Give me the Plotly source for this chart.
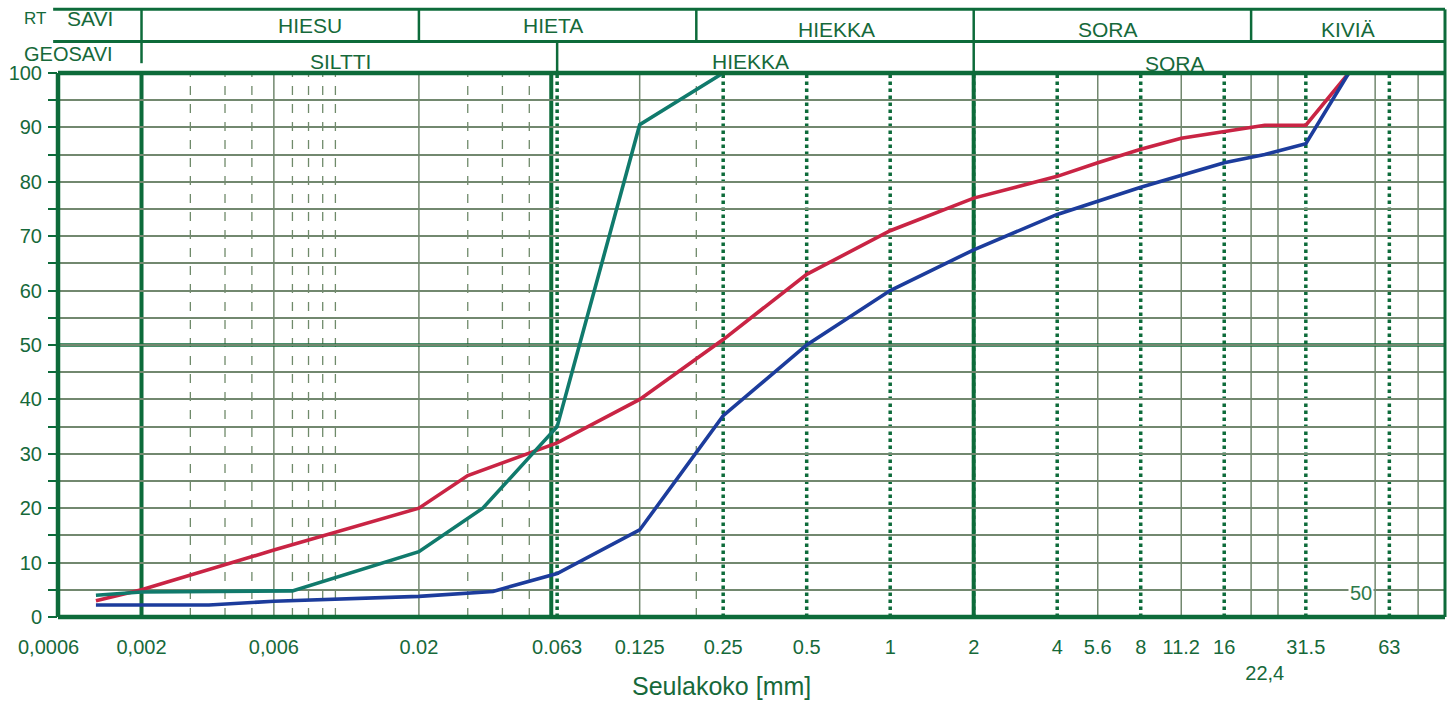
import math
import plotly.graph_objects as go

# Sieve sizes (mm) and cumulative passing (%) for the three samples
red_size = [0.00137, 0.002, 0.006, 0.01, 0.02, 0.03, 0.063, 0.125, 0.25, 0.5, 1, 2, 4, 5.6, 8, 11.2, 16, 22.4, 31.5, 45]
red_pass = [3, 5, 12.3, 15.5, 20, 26, 32, 40, 51, 63, 71, 77, 81, 83.5, 86, 88, 89.3, 90.4, 90.4, 100]

blue_size = [0.00137, 0.0035, 0.006, 0.02, 0.037, 0.063, 0.125, 0.25, 0.5, 1, 2, 4, 8, 16, 22.4, 31.5, 45]
blue_pass = [2.2, 2.2, 2.9, 3.8, 4.7, 8, 16, 37, 50, 60, 67.5, 74, 79, 83.5, 85, 87, 100]

teal_size = [0.00137, 0.002, 0.007, 0.02, 0.034, 0.063, 0.125, 0.25]
teal_pass = [4, 4.6, 4.8, 12, 20, 35, 90.5, 100]

tick_vals = [0.002, 0.006, 0.02, 0.063, 0.125, 0.25, 0.5, 1, 2, 4, 5.6, 8, 11.2, 16, 22.4, 31.5, 63]
tick_text = ["0,002", "0,006", "0.02", "0.063", "0.125", "0.25", "0.5", "1", "2", "4",
             "5.6", "8", "11.2", "16", "<br>22,4", "31.5", "63"]

# Grid line families
thick_lines = [0.002, 0.06, 2]
dotted_lines = [0.063, 0.25, 0.5, 1, 2, 4, 8, 16, 31.5, 63]
thin_lines = [0.006, 0.02, 0.125, 5.6, 11.2, 20, 25, 56, 80]
dashed_lines = [0.003, 0.004, 0.005, 0.007, 0.008, 0.009, 0.01, 0.03, 0.04, 0.05, 0.2]

# Classification header bands
rt_bounds = [0.002, 0.02, 0.2, 2, 20]
geo_bounds = [0.002, 0.063, 2]

GREEN = "#0d6b3a"
TEXT = "#16693a"
GRID = "#72886f"
FONT = "Liberation Sans, Arial, sans-serif"

fig = go.Figure()
for xs, ys, col in [(red_size, red_pass, "#c92444"),
                    (teal_size, teal_pass, "#107a6c"),
                    (blue_size, blue_pass, "#1c3c9c")]:
    fig.add_trace(go.Scatter(x=xs, y=ys, mode="lines",
                             line=dict(color=col, width=3.6),
                             hoverinfo="skip"))

shapes = []
for v in dashed_lines:
    shapes.append(dict(type="line", xref="x", yref="paper", x0=v, x1=v, y0=0, y1=1,
                       line=dict(color="#6f8a6a", width=1.3, dash="dash"), layer="below"))
for v in thin_lines:
    shapes.append(dict(type="line", xref="x", yref="paper", x0=v, x1=v, y0=0, y1=1,
                       line=dict(color=GRID, width=1.5), layer="below"))
for v in dotted_lines:
    shapes.append(dict(type="line", xref="x", yref="paper", x0=v, x1=v, y0=0, y1=1,
                       line=dict(color=GREEN, width=3.5, dash="dot"), layer="below"))
for v in thick_lines:
    shapes.append(dict(type="line", xref="x", yref="paper", x0=v, x1=v, y0=0, y1=1,
                       line=dict(color=GREEN, width=4), layer="below"))

# 50 % line
shapes.append(dict(type="line", xref="paper", yref="y", x0=0, x1=1, y0=50, y1=50,
                   line=dict(color=GREEN, width=3.5), layer="below"))

# Plot frame
shapes += [
    dict(type="line", xref="paper", yref="paper", x0=0, x1=0, y0=0, y1=1, line=dict(color=GREEN, width=4.5)),
    dict(type="line", xref="paper", yref="paper", x0=0, x1=1, y0=0, y1=0, line=dict(color=GREEN, width=4.5)),
    dict(type="line", xref="paper", yref="paper", x0=0, x1=1, y0=1, y1=1, line=dict(color=GREEN, width=4.5)),
    dict(type="line", xref="paper", yref="paper", x0=1, x1=1, y0=0, y1=1, line=dict(color=GREEN, width=3)),
]

# Header table above the plot
Y_TOP = 1.117
Y_MID = 1.058
x_left = -0.0035
shapes += [
    dict(type="line", xref="paper", yref="paper", x0=x_left, x1=1, y0=Y_TOP, y1=Y_TOP, line=dict(color=GREEN, width=3)),
    dict(type="line", xref="paper", yref="paper", x0=x_left, x1=1, y0=Y_MID, y1=Y_MID, line=dict(color=GREEN, width=3)),
    dict(type="line", xref="paper", yref="paper", x0=1, x1=1, y0=1, y1=Y_TOP, line=dict(color=GREEN, width=3)),
]
for v in rt_bounds:
    shapes.append(dict(type="line", xref="x", yref="paper", x0=v, x1=v, y0=Y_MID, y1=Y_TOP,
                       line=dict(color=GREEN, width=2.5)))
for v in geo_bounds:
    shapes.append(dict(type="line", xref="x", yref="paper", x0=v, x1=v, y0=1.0 if v != 0.002 else 1.018, y1=Y_MID,
                       line=dict(color=GREEN, width=2.5)))

PX0, PXW = 58, 1387
PY0, PYH = 617, 544


def px(x):
    return (x - PX0) / PXW


def py(y):
    return (PY0 - y) / PYH


annotations = []
header = [("RT", 35, 19, 17), ("SAVI", 90, 19, 21), ("HIESU", 310, 25, 21), ("HIETA", 553, 26, 21),
          ("HIEKKA", 836, 30, 21), ("SORA", 1108, 30, 21), ("KIVIÄ", 1348, 30, 21),
          ("GEOSAVI", 68, 54, 20), ("SILTTI", 340, 62, 21), ("HIEKKA", 750, 62, 21), ("SORA", 1175, 64, 21)]
for txt, x, y, size in header:
    annotations.append(dict(text=txt, xref="paper", yref="paper", x=px(x), y=py(y),
                            showarrow=False, xanchor="center", yanchor="middle",
                            font=dict(family=FONT, size=size, color=TEXT)))

annotations.append(dict(text="0,0006", xref="paper", yref="paper", x=px(48), y=py(647),
                        showarrow=False, xanchor="center", yanchor="middle",
                        font=dict(family=FONT, size=20, color=TEXT)))
annotations.append(dict(text="Seulakoko [mm]", xref="paper", yref="paper", x=px(721), y=py(686),
                        showarrow=False, xanchor="center", yanchor="middle",
                        font=dict(family=FONT, size=25, color=TEXT)))
annotations.append(dict(text="50", xref="x", yref="y", x=math.log10(50), y=4.4,
                        showarrow=False, xanchor="center", yanchor="middle", bgcolor="white",
                        font=dict(family=FONT, size=20, color="#2e7a4a")))

fig.update_layout(
    width=1455, height=702,
    margin=dict(l=58, r=10, t=73, b=85),
    plot_bgcolor="white", paper_bgcolor="white",
    showlegend=False,
    shapes=shapes,
    annotations=annotations,
    xaxis=dict(type="log", range=[-3, 2], tickvals=tick_vals, ticktext=tick_text,
               ticks="", showgrid=False, zeroline=False, showline=False,
               ticklabelstandoff=16,
               tickfont=dict(family=FONT, size=20, color=TEXT)),
    yaxis=dict(range=[0, 100], tickvals=list(range(0, 101, 10)), ticks="outside", ticklen=9,
               tickwidth=2, tickcolor=GREEN, showgrid=True, gridcolor=GRID, gridwidth=1.5,
               minor=dict(dtick=5, ticks="outside", ticklen=9, tickwidth=2, tickcolor=GREEN,
                          showgrid=True, gridcolor=GRID, gridwidth=1.5),
               zeroline=False, showline=False, ticklabelstandoff=2,
               tickfont=dict(family=FONT, size=20, color=TEXT)),
)

fig.write_html("out.html")
